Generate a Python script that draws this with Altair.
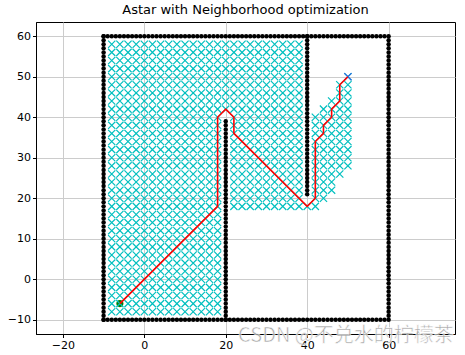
import altair as alt
import numpy as np
import pandas as pd

# ---- data ----
# obstacle walls (unit-spaced black dots between inclusive endpoints)
wall_x0 = [-10, 60, -10, -10, 20, 40]
wall_y0 = [-10, -10, 60, -10, -10, 21]
wall_x1 = [59, 60, 60, -10, 20, 40]
wall_y1 = [-10, 59, 60, 60, 39, 60]

# explored (closed-set) nodes, as rectangular blocks on the 2-unit grid
blk_x0 = [-8, 20, 22, 40, 42, 42, 42, 42, 44, 46, 48, 50]
blk_x1 = [18, 20, 38, 42, 50, 48, 46, 44, 50, 50, 50, 50]
blk_y0 = [-8, 42, 18, 18, 28, 26, 22, 20, 42, 44, 46, 50]
blk_y1 = [58, 58, 58, 18, 40, 26, 24, 20, 42, 44, 48, 50]
grid_step = 2

# final path vertices
path_x = [-6, 18, 18, 20, 22, 22, 40, 42, 42, 44, 44, 46, 46, 48, 48, 50]
path_y = [-6, 18, 40, 42, 40, 36, 18, 20, 34, 36, 38, 40, 42, 44, 48, 50]

start_x, start_y = [-6], [-6]
goal_x, goal_y = [50], [50]

x_ticks = [-20, 0, 20, 40, 60]
y_ticks = [-10, 0, 10, 20, 30, 40, 50, 60]
title_text = "Astar with Neighborhood optimization"
watermark = "CSDN @不兑水的柠檬茶"

# ---- build tables ----
obs_rows = []
for x0, y0, x1, y1 in zip(wall_x0, wall_y0, wall_x1, wall_y1):
    if x0 == x1:
        for y in range(y0, y1 + 1):
            obs_rows.append({"x": x0, "y": y})
    else:
        for x in range(x0, x1 + 1):
            obs_rows.append({"x": x, "y": y0})
obs_df = pd.DataFrame(obs_rows)

exp_rows = []
for x0, x1, y0, y1 in zip(blk_x0, blk_x1, blk_y0, blk_y1):
    for x in range(x0, x1 + 1, grid_step):
        for y in range(y0, y1 + 1, grid_step):
            exp_rows.append({"x": x, "y": y})
exp_df = pd.DataFrame(exp_rows)

path_df = pd.DataFrame({"x": path_x, "y": path_y, "o": list(range(len(path_x)))})
start_df = pd.DataFrame({"x": start_x, "y": start_y})
goal_df = pd.DataFrame({"x": goal_x, "y": goal_y})
wm_df = pd.DataFrame({"t": [watermark]})

FONT = "DejaVu Sans"
X = alt.X("x:Q", scale=alt.Scale(domain=[-26.6, 76.3], nice=False, zero=False),
          axis=alt.Axis(values=x_ticks, title=None))
Y = alt.Y("y:Q", scale=alt.Scale(domain=[-13.5, 63.5], nice=False, zero=False),
          axis=alt.Axis(values=y_ticks, title=None))

xshape = "M-1,-1L1,1M-1,1L1,-1"

obs = alt.Chart(obs_df).mark_point(shape="circle", filled=True, color="black",
                                    size=20, opacity=1).encode(x=X, y=Y)
start = alt.Chart(start_df).mark_point(shape="circle", filled=True, color="#008000",
                                        size=50, opacity=1).encode(x=X, y=Y)
explored = alt.Chart(exp_df).mark_point(shape=xshape, filled=False, color="#00bfbf",
                                         size=52, strokeWidth=1.2, opacity=1).encode(x=X, y=Y)
goal = alt.Chart(goal_df).mark_point(shape=xshape, filled=False, color="#2a6fe0",
                                      size=52, strokeWidth=1.3, opacity=1).encode(x=X, y=Y)
path = alt.Chart(path_df).mark_line(color="red", strokeWidth=1.6).encode(
    x=X, y=Y, order="o:Q")
wm = alt.Chart(wm_df).mark_text(
    font="Noto Sans CJK SC", fontSize=20, color="#999999", opacity=0.85,
    align="left", baseline="alphabetic", stroke="white", strokeWidth=0.6,
).encode(text="t:N", x=alt.value(202), y=alt.value(320))

chart = alt.layer(obs, start, explored, goal, path, wm).properties(
    width=419, height=312,
    title=alt.TitleParams(title_text, font=FONT, fontSize=13, fontWeight="normal",
                          anchor="middle", offset=5, color="black"),
    autosize=alt.AutoSizeParams(type="none"),
    padding={"left": 36, "top": 22, "right": 10, "bottom": 21},
).configure_view(stroke="black", strokeWidth=1).configure_axis(
    grid=True, gridColor="#cccccc", gridWidth=1, domainColor="black",
    tickColor="black", tickSize=3.5, labelFont=FONT, labelFontSize=11,
    labelColor="black", labelPadding=2,
)

chart.save("out.html", embed_options={"renderer": "svg", "actions": False})
